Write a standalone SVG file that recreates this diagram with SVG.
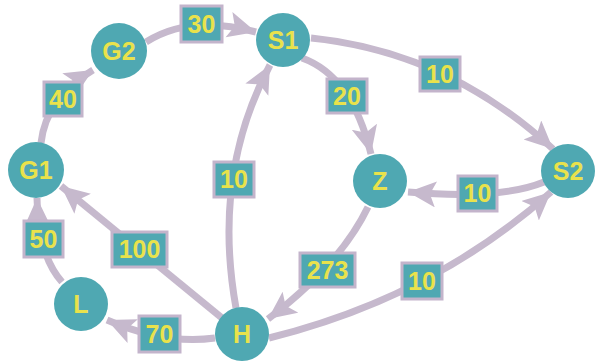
<svg xmlns="http://www.w3.org/2000/svg" width="595" height="362" viewBox="0 0 595 362">
  <style>
    .edge { fill: none; stroke: #C6B9CD; stroke-width: 7; marker-end: url(#arrow); }
    .node circle { fill: #4FA8B2; }
    .node text, .lbl text { font-family: "Liberation Sans", Arial, sans-serif; font-weight: bold; font-size: 25px; fill: #E9E24C; text-anchor: middle; }
    .lbl rect { fill: #4FA8B2; stroke: #C3B4CB; stroke-width: 3; }
  </style>
  <defs>
    <marker id="arrow" markerUnits="userSpaceOnUse" markerWidth="32" markerHeight="32" refX="28" refY="13" orient="auto">
      <path d="M0,0 L28,13 L0,26 L6,13 Z" fill="#C6B9CD"/>
    </marker>
  </defs>
  <rect width="595" height="362" fill="#FFFFFF"/>

  <!-- connectors -->
  <g id="edges">
    <path class="edge" d="M41,143 Q46,98 93,70"/>
    <path class="edge" d="M146,42 Q190,14 256,32"/>
    <path class="edge" d="M302,58 Q352,76 371,154"/>
    <path class="edge" d="M311,38 Q448,52 553,149"/>
    <path class="edge" d="M544,182 Q500,200 408,192"/>
    <path class="edge" d="M368,207 Q340,265 268,319"/>
    <path class="edge" d="M269,338 Q434,297 551,192"/>
    <path class="edge" d="M236,308 Q212,174 270,65"/>
    <path class="edge" d="M222,318 L61,186"/>
    <path class="edge" d="M215,338 Q165,345 107,320"/>
    <path class="edge" d="M62,282 Q38,255 37,198"/>
  </g>

  <!-- edge weights -->
  <g id="labels">
    <g class="lbl"><rect x="44" y="82" width="38" height="34"/><text x="63" y="108">40</text></g>
    <g class="lbl"><rect x="181" y="6" width="41" height="36"/><text x="201.5" y="33">30</text></g>
    <g class="lbl"><rect x="327" y="79" width="40" height="34"/><text x="347" y="105">20</text></g>
    <g class="lbl"><rect x="420" y="57" width="40" height="34"/><text x="440" y="83">10</text></g>
    <g class="lbl"><rect x="458" y="176" width="39" height="35"/><text x="477.5" y="202">10</text></g>
    <g class="lbl"><rect x="300" y="253" width="55" height="34"/><text x="327.5" y="279">273</text></g>
    <g class="lbl"><rect x="402" y="263" width="40" height="36"/><text x="422" y="290">10</text></g>
    <g class="lbl"><rect x="214" y="162" width="40" height="35"/><text x="234" y="188">10</text></g>
    <g class="lbl"><rect x="112" y="232" width="55" height="35"/><text x="139.5" y="258">100</text></g>
    <g class="lbl"><rect x="139" y="316" width="41" height="36"/><text x="159.5" y="343">70</text></g>
    <g class="lbl"><rect x="24" y="221" width="39" height="36"/><text x="43.5" y="248">50</text></g>
  </g>

  <!-- nodes -->
  <g id="G2" class="node"><circle cx="119" cy="51" r="28"/><text x="119" y="60">G2</text></g>
  <g id="S1" class="node"><circle cx="283" cy="40" r="27"/><text x="283" y="49">S1</text></g>
  <g id="G1" class="node"><circle cx="36" cy="170" r="28"/><text x="36" y="179">G1</text></g>
  <g id="Z" class="node"><circle cx="380" cy="181" r="27"/><text x="380" y="190">Z</text></g>
  <g id="S2" class="node"><circle cx="568" cy="171" r="27"/><text x="568" y="180">S2</text></g>
  <g id="L" class="node"><circle cx="81" cy="304" r="27"/><text x="81" y="313">L</text></g>
  <g id="H" class="node"><circle cx="242" cy="334" r="27"/><text x="242" y="343">H</text></g>
</svg>
